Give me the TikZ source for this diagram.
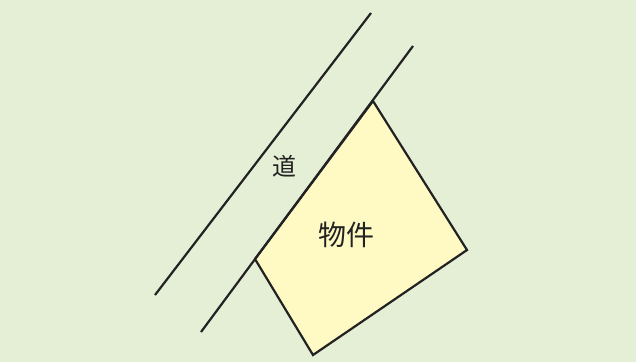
\documentclass[tikz,border=0pt]{standalone}
\usepackage{fontspec}
\newfontfamily\jpfont{Noto Sans CJK JP}
\definecolor{groundgreen}{RGB}{228,239,214}
\definecolor{lotyellow}{RGB}{255,249,196}
\definecolor{inkline}{RGB}{34,34,34}

\begin{document}
\begin{tikzpicture}[x=1pt, y=-1pt, line width=2.2pt, line join=miter]
    \fill[groundgreen] (0,0) rectangle (636,362);
    \useasboundingbox (0,0) rectangle (636,362);

    % road edges
    \coordinate (roadA1) at (155,295);
    \coordinate (roadA2) at (371,13);
    \coordinate (roadB1) at (201,332);
    \coordinate (roadB2) at (413,46);

    % lot corners
    \coordinate (lotN) at (373,101);
    \coordinate (lotE) at (467,250);
    \coordinate (lotS) at (313,355);
    \coordinate (lotW) at (255,259);

    \filldraw[fill=lotyellow, draw=inkline] (lotN) -- (lotE) -- (lotS) -- (lotW) -- cycle;
    \draw[inkline] (roadA1) -- (roadA2);
    \draw[inkline] (roadB1) -- (roadB2);

    \node[inkline, font=\jpfont\fontsize{24}{24}\selectfont] (road) at (284,166) {道};
    \node[inkline, font=\jpfont\fontsize{28}{28}\selectfont] (lot) at (346,235) {物件};
\end{tikzpicture}
\end{document}
